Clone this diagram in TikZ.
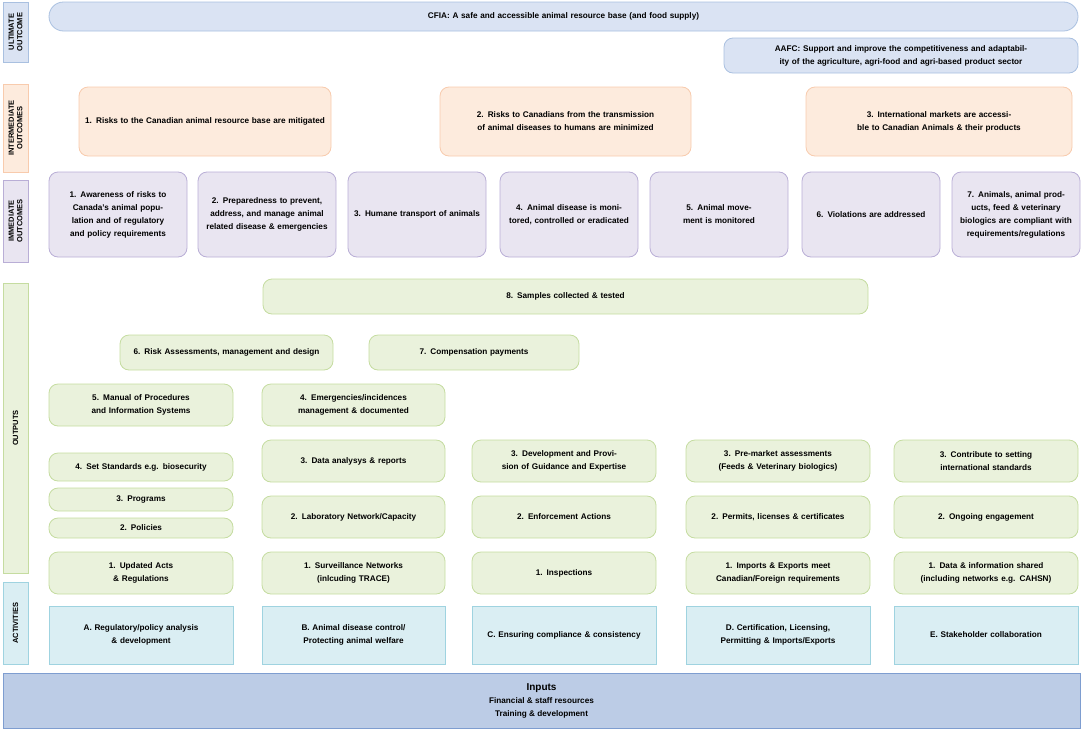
\documentclass[tikz,border=0pt]{standalone}
\usepackage{fontspec}
\setmainfont{Liberation Sans}
\definecolor{ubF}{HTML}{DAE3F3}\definecolor{ubD}{HTML}{A9C0E0}
\definecolor{ioF}{HTML}{FDEBDD}\definecolor{ioD}{HTML}{F8CBAD}
\definecolor{imF}{HTML}{E9E5F1}\definecolor{imD}{HTML}{B9AED6}
\definecolor{grF}{HTML}{EAF2DC}\definecolor{grD}{HTML}{C5DCA0}
\definecolor{acF}{HTML}{DAEEF3}\definecolor{acD}{HTML}{9FD3E0}
\definecolor{inF}{HTML}{BCCCE6}\definecolor{inD}{HTML}{7E9DD0}
\newcommand\bx[7]{\node[#2, minimum width={#5-#3}, minimum height={#6-#4}, text width={#5-#3-8}] (#1) at ({(#3+#5)/2},{(#4+#6)/2}) {#7};}
\begin{document}
\begin{tikzpicture}[x=1pt,y=-1pt,
  base/.style={draw, line width=0.8pt, inner sep=0pt, align=center, font=\bfseries\fontsize{8.2}{13}\selectfont},
  ult/.style={base, fill=ubF, draw=ubD, rounded corners=9pt},
  int/.style={base, fill=ioF, draw=ioD, rounded corners=9pt},
  imm/.style={base, fill=imF, draw=imD, rounded corners=9pt},
  outp/.style={base, fill=grF, draw=grD, rounded corners=9pt},
  act/.style={base, fill=acF, draw=acD},
  side/.style={base, rotate=90, font=\bfseries\fontsize{7.5}{8.5}\selectfont}]
\useasboundingbox (0,0) rectangle (1083,731);
% side labels
\node[side, fill=ubF, draw=ubD, minimum width=60, minimum height=25] (s1) at (15.5,32) {ULTIMATE\\OUTCOME};
\node[side, fill=ioF, draw=ioD, minimum width=88, minimum height=25] (s2) at (15.5,128) {INTERMEDIATE\\OUTCOMES};
\node[side, fill=imF, draw=imD, minimum width=82, minimum height=25] (s3) at (15.5,221) {IMMEDIATE\\OUTCOMES};
\node[side, fill=grF, draw=grD, minimum width=290, minimum height=25] (s4) at (15.5,428) {OUTPUTS};
\node[side, fill=acF, draw=acD, minimum width=82, minimum height=25] (s5) at (15.5,623) {ACTIVITIES};
% ultimate
\node[ult, rounded corners=14.5pt, minimum width=1029, minimum height=29, text width=1000] (cfia) at (563.5,16.5) {CFIA: A safe and accessible animal resource base (and food supply)};
\bx{aafc}{ult}{724}{38}{1078}{73}{AAFC: Support and improve the competitiveness and adaptability of the agriculture, agri-food and agri-based product sector}
% intermediate
\bx{i1}{int}{79}{87}{331}{156}{1. Risks to the Canadian animal resource base are mitigated}
\bx{i2}{int}{440}{87}{691}{156}{2. Risks to Canadians from the transmission of animal diseases to humans are minimized}
\bx{i3}{int}{806}{87}{1072}{156}{3. International markets are accessible to Canadian Animals \& their products}
% immediate
\bx{m1}{imm}{49}{172}{187}{257}{1. Awareness of risks to Canada’s animal population and of regulatory and policy requirements}
\bx{m2}{imm}{198}{172}{336}{257}{2. Preparedness to prevent, address, and manage animal related disease \& emergencies}
\bx{m3}{imm}{348}{172}{486}{257}{3. Humane transport of animals}
\bx{m4}{imm}{500}{172}{638}{257}{4. Animal disease is monitored, controlled or eradicated}
\bx{m5}{imm}{650}{172}{788}{257}{5. Animal movement is monitored}
\bx{m6}{imm}{802}{172}{940}{257}{6. Violations are addressed}
\bx{m7}{imm}{952}{172}{1080}{257}{7. Animals, animal products, feed \& veterinary biologics are compliant with requirements/regulations}
% outputs
\bx{o8}{outp}{263}{279}{868}{314}{8. Samples collected \& tested}
\bx{o6}{outp}{120}{335}{333}{370}{6. Risk Assessments, management and design}
\bx{o7}{outp}{369}{335}{579}{370}{7. Compensation payments}
\bx{o5}{outp}{49}{384}{233}{426}{5. Manual of Procedures and Information Systems}
\bx{o4}{outp}{262}{384}{445}{426}{4. Emergencies/incidences management \& documented}
\bx{a4}{outp}{49}{453}{233}{481}{4. Set Standards e.g. biosecurity}
\bx{a3}{outp}{49}{488}{233}{511}{3. Programs}
\bx{a2}{outp}{49}{518}{233}{538}{2. Policies}
\bx{a1}{outp}{49}{552}{233}{594}{1. Updated Acts\\\& Regulations}
\bx{b3}{outp}{262}{440}{445}{482}{3. Data analysys \& reports}
\bx{b2}{outp}{262}{496}{445}{538}{2. Laboratory Network/Capacity}
\bx{b1}{outp}{262}{552}{445}{594}{1. Surveillance Networks\\(inlcuding TRACE)}
\bx{c3}{outp}{472}{440}{656}{482}{3. Development and Provision of Guidance and Expertise}
\bx{c2}{outp}{472}{496}{656}{538}{2. Enforcement Actions}
\bx{c1}{outp}{472}{552}{656}{594}{1. Inspections}
\bx{d3}{outp}{686}{440}{870}{482}{3. Pre-market assessments (Feeds \& Veterinary biologics)}
\bx{d2}{outp}{686}{496}{870}{538}{2. Permits, licenses \& certificates}
\bx{d1}{outp}{686}{552}{870}{594}{1. Imports \& Exports meet Canadian/Foreign requirements}
\bx{e3}{outp}{894}{440}{1078}{482}{3. Contribute to setting international standards}
\bx{e2}{outp}{894}{496}{1078}{538}{2. Ongoing engagement}
\bx{e1}{outp}{894}{552}{1078}{594}{1. Data \& information shared\\(including networks e.g. CAHSN)}
% activities
\bx{aa}{act}{49}{606}{233}{664}{A. Regulatory/policy analysis\\\& development}
\bx{ab}{act}{262}{606}{445}{664}{B. Animal disease control/\\Protecting animal welfare}
\bx{ac}{act}{472}{606}{656}{664}{C. Ensuring compliance \& consistency}
\bx{ad}{act}{686}{606}{870}{664}{D. Certification, Licensing, Permitting \& Imports/Exports}
\bx{ae}{act}{894}{606}{1078}{664}{E. Stakeholder collaboration}
% inputs
\node[base, fill=inF, draw=inD, minimum width=1077, minimum height=55] (inp) at (541.5,700.5) {{\fontsize{10}{13}\selectfont Inputs}\\Financial \& staff resources\\Training \& development};
\end{tikzpicture}
\end{document}
